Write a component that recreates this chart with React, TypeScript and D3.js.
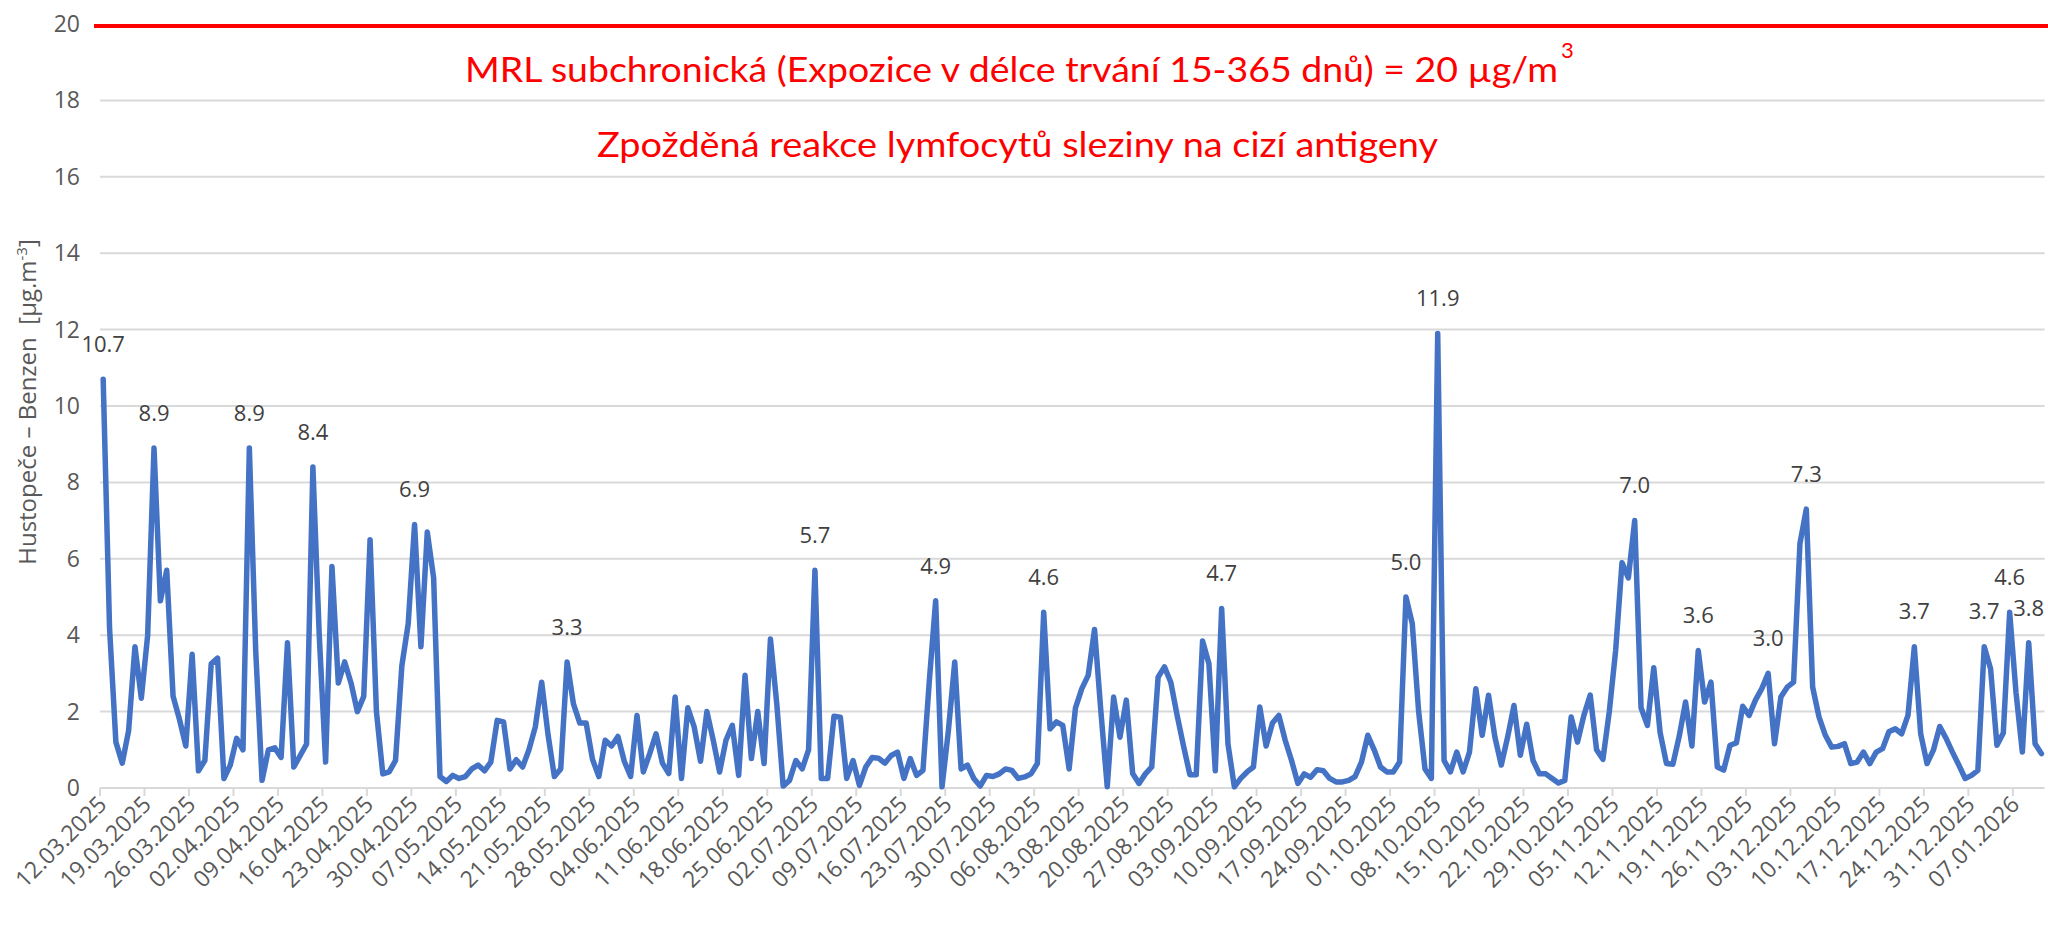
import React from "react";
import * as d3 from "d3";

const START_DATE = "2025-03-12";
const values: number[] = [
  10.7, 4.2, 1.2, 0.65, 1.5, 3.7, 2.35, 4.0, 8.9, 4.9,
  5.7, 2.4, 1.8, 1.1, 3.5, 0.45, 0.72, 3.25, 3.4, 0.25,
  0.6, 1.3, 1.0, 8.9, 3.6, 0.2, 1.0, 1.05, 0.8, 3.8,
  0.55, 0.85, 1.15, 8.4, 4.0, 0.68, 5.8, 2.75, 3.3, 2.75,
  2.0, 2.4, 6.5, 2.0, 0.37, 0.42, 0.72, 3.2, 4.3, 6.9,
  3.7, 6.7, 5.5, 0.3, 0.17, 0.33, 0.25, 0.3, 0.5, 0.6,
  0.45, 0.68, 1.77, 1.73, 0.5, 0.74, 0.55, 1.0, 1.6, 2.77,
  1.4, 0.3, 0.5, 3.3, 2.2, 1.7, 1.7, 0.75, 0.3, 1.25,
  1.1, 1.35, 0.7, 0.3, 1.9, 0.42, 0.9, 1.42, 0.65, 0.38,
  2.38, 0.25, 2.1, 1.6, 0.7, 2.0, 1.25, 0.42, 1.25, 1.64,
  0.33, 2.95, 0.77, 2.0, 0.64, 3.9, 2.2, 0.05, 0.2, 0.72,
  0.5, 1.0, 5.7, 0.25, 0.25, 1.88, 1.85, 0.25, 0.72, 0.07,
  0.55, 0.8, 0.78, 0.65, 0.85, 0.94, 0.25, 0.77, 0.33, 0.46,
  2.8, 4.9, 0.03, 1.5, 3.3, 0.5, 0.6, 0.25, 0.05, 0.33,
  0.3, 0.37, 0.5, 0.46, 0.25, 0.29, 0.37, 0.64, 4.6, 1.55,
  1.73, 1.64, 0.5, 2.1, 2.6, 2.95, 4.15, 2.0, 0.03, 2.38,
  1.33, 2.3, 0.38, 0.12, 0.37, 0.55, 2.9, 3.17, 2.77, 1.9,
  1.1, 0.35, 0.35, 3.85, 3.25, 0.45, 4.7, 1.15, 0.03, 0.25,
  0.42, 0.55, 2.12, 1.1, 1.7, 1.9, 1.25, 0.72, 0.12, 0.37,
  0.28, 0.48, 0.45, 0.25, 0.16, 0.16, 0.2, 0.3, 0.68, 1.38,
  1.0, 0.55, 0.42, 0.42, 0.68, 5.0, 4.3, 2.0, 0.5, 0.25,
  11.9, 0.72, 0.42, 0.94, 0.42, 0.94, 2.6, 1.38, 2.43, 1.33,
  0.6, 1.33, 2.16, 0.86, 1.67, 0.72, 0.37, 0.37, 0.25, 0.13,
  0.2, 1.86, 1.2, 1.9, 2.43, 1.0, 0.75, 2.0, 3.6, 5.9,
  5.5, 7.0, 2.1, 1.64, 3.15, 1.45, 0.64, 0.62, 1.35, 2.25,
  1.1, 3.6, 2.25, 2.77, 0.55, 0.47, 1.12, 1.18, 2.14, 1.9,
  2.3, 2.6, 3.0, 1.16, 2.38, 2.64, 2.77, 6.4, 7.3, 2.64,
  1.86, 1.38, 1.07, 1.09, 1.16, 0.64, 0.68, 0.94, 0.64, 0.94,
  1.03, 1.47, 1.55, 1.42, 1.9, 3.7, 1.42, 0.64, 0.99, 1.61,
  1.3, 0.94, 0.6, 0.25, 0.33, 0.46, 3.7, 3.12, 1.12, 1.44,
  4.6, 2.5, 0.94, 3.8, 1.16, 0.9,
];
const labeledIdx: number[] = [0, 8, 23, 33, 49, 73, 112, 131, 148, 176, 205, 210, 241, 251, 262, 268, 285, 296, 300, 303];
const yTicks: number[] = [0, 2, 4, 6, 8, 10, 12, 14, 16, 18, 20];
const xTickStepDays = 7;
const limitValue = 20;
const limitText1 = "MRL subchronická (Expozice v délce trvání 15-365 dnů) = 20 µg/m";
const limitText1Sup = "3";
const limitText2 = "Zpožděná reakce lymfocytů sleziny na cizí antigeny";
const yTitleMain = "Hustopeče – Benzen\u00A0\u00A0[µg.m";
const yTitleSup = "-3";
const yTitleEnd = "]";

const W = 2048;
const H = 927;
const plotLeft = 100;
const plotRight = 2044.6;
const plotTop = 24;
const plotBottom = 788;

const fmtDate = (d: Date) =>
  `${String(d.getDate()).padStart(2, "0")}.${String(d.getMonth() + 1).padStart(2, "0")}.${d.getFullYear()}`;

export default function App() {
  const start = new Date(START_DATE + "T12:00:00");
  const dates = values.map((_, i) => d3.timeDay.offset(start, i));
  const idx = values.map((_, i) => i);

  const x = d3.scaleBand<number>().domain(idx).range([plotLeft, plotRight]).padding(0);
  const bw = x.bandwidth();
  const cx = (i: number) => (x(i) as number) + bw / 2;
  const y = d3.scaleLinear().domain([0, 20]).range([plotBottom, plotTop]);

  const line = d3
    .line<number>()
    .x((_, i) => cx(i))
    .y((d) => y(d))
    .curve(d3.curveLinear);

  const tickIdx = idx.filter((i) => i % xTickStepDays === 0);
  const font = "'Open Sans', 'DejaVu Sans', sans-serif";

  return (
    <svg
      width={W}
      height={H}
      style={{ position: "absolute", left: 0, top: 0, background: "#fff" }}
    >
      <rect x={0} y={0} width={W} height={H} fill="#fff" />
      {yTicks
        .filter((t) => t > 0 && t < 20)
        .map((t) => (
          <line key={t} x1={plotLeft} x2={plotRight} y1={y(t)} y2={y(t)} stroke="#d9d9d9" strokeWidth={2} />
        ))}
      <line x1={plotLeft} x2={plotRight} y1={y(0)} y2={y(0)} stroke="#d9d9d9" strokeWidth={2} />
      {tickIdx.map((i) => (
        <line key={i} x1={x(i)} x2={x(i)} y1={y(0)} y2={y(0) + 8} stroke="#d9d9d9" strokeWidth={2} />
      ))}
      {yTicks.map((t) => (
        <text
          key={t}
          x={80}
          y={y(t)}
          dy="0.35em"
          textAnchor="end"
          fontFamily={font}
          fontSize={23}
          fill="#595959"
        >
          {t}
        </text>
      ))}
      {tickIdx.map((i) => {
        const ax = (x(i) as number) + 8;
        const ay = y(0) + 18;
        return (
          <text
            key={i}
            x={ax}
            y={ay}
            textAnchor="end"
            transform={`rotate(-45 ${ax} ${ay})`}
            fontFamily={font}
            fontSize={23}
            fill="#595959"
          >
            {fmtDate(dates[i])}
          </text>
        );
      })}
      <text
        transform={`translate(36, ${(plotTop + plotBottom) / 2 - 4}) rotate(-90)`}
        textAnchor="middle"
        fontFamily={font}
        fontSize={24}
        fill="#595959"
      >
        {yTitleMain}
        <tspan fontSize={15} dy={-9}>{yTitleSup}</tspan>
        <tspan dy={9}>{yTitleEnd}</tspan>
      </text>
      <line x1={94} x2={W} y1={y(limitValue) + 2} y2={y(limitValue) + 2} stroke="#ff0000" strokeWidth={4} />
      <text
        x={465}
        y={82}
        fontFamily="Lato, 'Open Sans', sans-serif"
        fontSize={35}
        fill="#ff0000"
        textLength={1093}
        lengthAdjust="spacingAndGlyphs"
      >
        {limitText1}
      </text>
      <text x={1561} y={58} fontFamily="Lato, sans-serif" fontSize={22} fill="#ff0000">
        {limitText1Sup}
      </text>
      <text
        x={597}
        y={157}
        fontFamily="Lato, 'Open Sans', sans-serif"
        fontSize={35}
        fill="#ff0000"
        textLength={841}
        lengthAdjust="spacingAndGlyphs"
      >
        {limitText2}
      </text>
      <path d={line(values) || ""} fill="none" stroke="#4472c4" strokeWidth={5.5} strokeLinejoin="round" strokeLinecap="round" />
      {labeledIdx.map((i) => (
        <text
          key={i}
          x={cx(i)}
          y={y(values[i]) - 35}
          dy="0.35em"
          textAnchor="middle"
          fontFamily={font}
          fontSize={22}
          fill="#404040"
        >
          {values[i].toFixed(1)}
        </text>
      ))}
    </svg>
  );
}
